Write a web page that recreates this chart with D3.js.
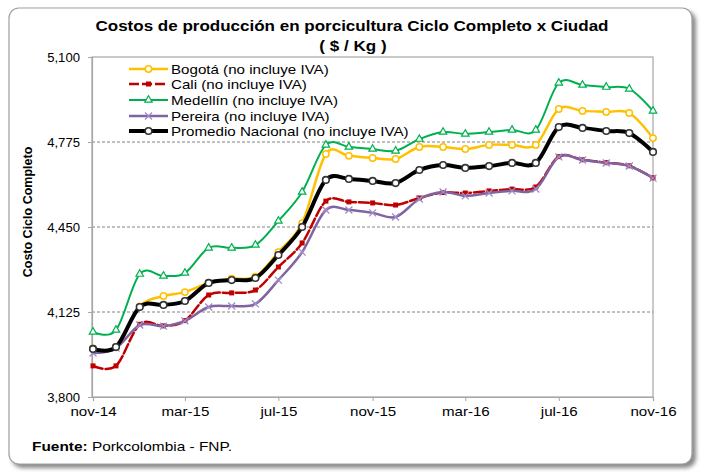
<!DOCTYPE html>
<html><head><meta charset="utf-8">
<script src="https://cdn.jsdelivr.net/npm/d3@7"></script>
<style>body{margin:0;background:#fff}svg{display:block}text{font-family:"Liberation Sans",Arial,sans-serif}</style>
</head><body><svg id="c" width="702" height="472"></svg>
<script>
const months = ["2014-11","2014-12","2015-01","2015-02","2015-03","2015-04","2015-05","2015-06","2015-07","2015-08","2015-09","2015-10","2015-11","2015-12","2016-01","2016-02","2016-03","2016-04","2016-05","2016-06","2016-07","2016-08","2016-09","2016-10","2016-11"];
const bogota   = [3986,3991,4146,4186,4201,4236,4252,4260,4354,4465,4729,4722,4714,4710,4756,4756,4748,4764,4764,4764,4901,4894,4890,4886,4790];
const cali     = [3919,3919,4078,4072,4092,4190,4198,4209,4297,4389,4549,4546,4542,4534,4561,4582,4580,4588,4595,4603,4719,4707,4696,4684,4638];
const medellin = [4049,4056,4270,4263,4274,4370,4370,4381,4473,4584,4764,4756,4748,4741,4786,4813,4806,4813,4821,4821,5001,4993,4985,4978,4894];
const pereira  = [3968,3987,4075,4071,4091,4144,4148,4156,4247,4354,4515,4515,4504,4488,4557,4584,4569,4580,4588,4595,4718,4706,4695,4683,4637];
const promedio = [3984,3991,4144,4152,4167,4236,4247,4255,4343,4450,4630,4634,4626,4618,4668,4687,4676,4683,4695,4695,4832,4829,4817,4809,4737];
const seriesNames = ["Bogotá (no incluye IVA)","Cali (no incluye IVA)","Medellín (no incluye IVA)","Pereira (no incluye IVA)","Promedio Nacional (no incluye IVA)"];
const yTicks = [3800,4125,4450,4775,5100];
const xTickLabels = ["nov-14","mar-15","jul-15","nov-15","mar-16","jul-16","nov-16"];
const xTickMonths = ["2014-11","2015-03","2015-07","2015-11","2016-03","2016-07","2016-11"];

const svg = d3.select("#c");
const parse = d3.timeParse("%Y-%m");
const L=92,R=653,T=57,B=397;
const x = d3.scaleTime().domain([parse(months[0]), parse(months[months.length-1])]).range([L+1,R]);
const y = d3.scaleLinear().domain([3800,5100]).range([B,T]);

function stretch(sel, factor){
  sel.each(function(){ const n=this; const w=n.getComputedTextLength(); n.setAttribute("textLength", w*factor); n.setAttribute("lengthAdjust","spacingAndGlyphs"); });
}

// outer frame with shadow
const defs = svg.append("defs");
const f = defs.append("filter").attr("id","sh").attr("x","-5%").attr("y","-5%").attr("width","115%").attr("height","115%");
f.append("feGaussianBlur").attr("stdDeviation",2);
svg.append("rect").attr("x",12).attr("y",11).attr("width",684).attr("height",457).attr("rx",10).attr("fill","#888").attr("filter","url(#sh)");
svg.append("rect").attr("x",9).attr("y",8).attr("width",683).attr("height",456).attr("rx",10).attr("fill","#fff").attr("stroke","#a0a0a0").attr("stroke-width",1.2);

// plot area border
svg.append("rect").attr("x",L).attr("y",T).attr("width",R-L).attr("height",B-T).attr("fill","none").attr("stroke","#a6a6a6").attr("stroke-width",1.2);
// gridlines
svg.append("g").selectAll("line").data(yTicks.slice(1,4)).join("line")
  .attr("x1",L).attr("x2",R).attr("y1",d=>y(d)).attr("y2",d=>y(d))
  .attr("stroke","#808080").attr("stroke-width",1).attr("stroke-dasharray","3,2");

// y axis
const yAx = svg.append("g").attr("transform",`translate(${L},0)`)
  .call(d3.axisLeft(y).tickValues(yTicks).tickFormat(d3.format(",")).tickSize(4).tickPadding(6));
yAx.select(".domain").attr("stroke","#a6a6a6").attr("stroke-width",1.2);
yAx.selectAll(".tick line").attr("stroke","#a6a6a6");
yAx.selectAll("text").attr("font-size",12.5).attr("fill","#000").attr("font-family","Liberation Sans, Arial").attr("dx",-2);
stretch(yAx.selectAll("text"),1.05);

// x axis
const xAx = svg.append("g").attr("transform",`translate(0,${B})`)
  .call(d3.axisBottom(x).tickValues(xTickMonths.map(parse)).tickFormat((d,i)=>xTickLabels[i]).tickSize(4).tickPadding(5));
xAx.select(".domain").attr("stroke","#a6a6a6").attr("stroke-width",1.2);
xAx.selectAll(".tick line").attr("stroke","#a6a6a6");
xAx.selectAll("text").attr("font-size",13.5).attr("fill","#000").attr("font-family","Liberation Sans, Arial");
stretch(xAx.selectAll("text"),1.12);

// series
const styles = [
  {data:bogota,color:"#FFC000",w:2.5,dash:null,marker:"circle"},
  {data:cali,color:"#C00000",w:2.5,dash:"10,3",marker:"square"},
  {data:medellin,color:"#00B050",w:2,dash:null,marker:"triangle"},
  {data:pereira,color:"#8064A2",w:2.5,dash:null,marker:"x"},
  {data:promedio,color:"#000000",w:4,dash:null,marker:"circleBig"}
];
const line = d3.line().x(d=>x(d.date)).y(d=>y(d.v)).curve(d3.curveCardinal.tension(0));

function drawMarker(g, type, color, cx, cy){
  if(type==="circle") g.append("circle").attr("cx",cx).attr("cy",cy).attr("r",3.2).attr("fill","#fff").attr("stroke",color).attr("stroke-width",1.5);
  else if(type==="circleBig") g.append("circle").attr("cx",cx).attr("cy",cy).attr("r",3.3).attr("fill","#fff").attr("stroke","#333").attr("stroke-width",1.6);
  else if(type==="square") g.append("rect").attr("x",cx-2.5).attr("y",cy-2.5).attr("width",5).attr("height",5).attr("fill",color);
  else if(type==="triangle") g.append("path").attr("d",d3.symbol(d3.symbolTriangle,24)()).attr("transform",`translate(${cx},${cy})`).attr("fill","#fff").attr("stroke",color).attr("stroke-width",1.2);
  else if(type==="x") g.append("path").attr("d",`M${cx-3.5},${cy-3.5}L${cx+3.5},${cy+3.5}M${cx-3.5},${cy+3.5}L${cx+3.5},${cy-3.5}`).attr("stroke","#a08cc8").attr("stroke-width",1.3);
}

styles.forEach(s=>{
  const pts = months.map((m,i)=>({date:parse(m),v:s.data[i]}));
  const g = svg.append("g");
  g.append("path").attr("d",line(pts)).attr("fill","none").attr("stroke",s.color).attr("stroke-width",s.w)
    .attr("stroke-dasharray",s.dash).attr("stroke-linejoin","round").attr("stroke-linecap","round");
  pts.forEach(p=>drawMarker(g,s.marker,s.color,x(p.date),y(p.v)));
});

// legend
const lg = svg.append("g");
const legY = [69,84,100,116,131];
styles.forEach((s,i)=>{
  lg.append("line").attr("x1",129).attr("x2",168).attr("y1",legY[i]).attr("y2",legY[i]).attr("stroke",s.color).attr("stroke-width",s.w).attr("stroke-dasharray",s.dash);
  drawMarker(lg,s.marker,s.color,148.5,legY[i]);
  lg.append("text").attr("x",171).attr("y",legY[i]+5).attr("font-size",13.5).attr("fill","#000").text(seriesNames[i]);
});
stretch(lg.selectAll("text"),1.12);

// titles
const t1 = svg.append("text").attr("x",352).attr("y",31).attr("text-anchor","middle").attr("font-size",15.5).attr("font-weight","bold").text("Costos de producción  en porcicultura Ciclo Completo x Ciudad");
const t2 = svg.append("text").attr("x",353).attr("y",51).attr("text-anchor","middle").attr("font-size",15.5).attr("font-weight","bold").text("( $ / Kg )");
t1.attr("textLength",513).attr("lengthAdjust","spacingAndGlyphs");
stretch(t2,1.1);
svg.append("text").attr("transform","translate(32,212) rotate(-90)").attr("text-anchor","middle").attr("font-size",12.5).attr("font-weight","bold").text("Costo Ciclo Completo");
const ft = svg.append("text").attr("x",32).attr("y",451).attr("font-size",13);
ft.append("tspan").attr("font-weight","bold").text("Fuente: ");
ft.append("tspan").text("Porkcolombia - FNP.");
ft.attr("textLength",200).attr("lengthAdjust","spacingAndGlyphs");
</script></body></html>
